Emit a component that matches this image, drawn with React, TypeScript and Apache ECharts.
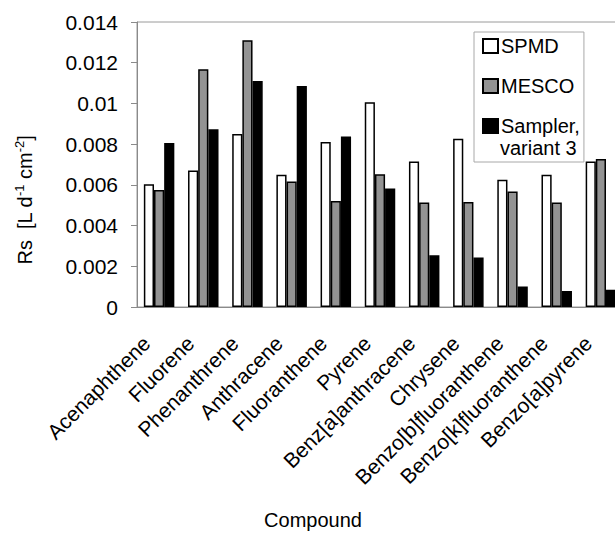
import React, { useEffect, useRef } from "react";
import * as echarts from "echarts";

const categories = [
  "Acenaphthene",
  "Fluorene",
  "Phenanthrene",
  "Anthracene",
  "Fluoranthene",
  "Pyrene",
  "Benz[a]anthracene",
  "Chrysene",
  "Benzo[b]fluoranthene",
  "Benzo[k]fluoranthene",
  "Benzo[a]pyrene",
];
const spmd = [0.00603, 0.0067, 0.0085, 0.0065, 0.0081, 0.01006, 0.00715, 0.00826, 0.00625, 0.0065, 0.00715];
const mesco = [0.00575, 0.01168, 0.0131, 0.00616, 0.00521, 0.00652, 0.00513, 0.00516, 0.00567, 0.00513, 0.00727];
const sampler = [0.00806, 0.00873, 0.0111, 0.01086, 0.00838, 0.00582, 0.00254, 0.00243, 0.00101, 0.00078, 0.00085];
const seriesNames = ["SPMD", "MESCO", "Sampler, variant 3"];

const FONT = "Liberation Sans, Arial, sans-serif";

export default function App() {
  const ref = useRef<HTMLDivElement>(null);
  useEffect(() => {
    if (!ref.current) return;
    const chart = echarts.init(ref.current, undefined, { renderer: "svg" });
    const mk = (name: string, data: number[], color: string) => ({
      name,
      type: "bar",
      data,
      barGap: "0%",
      barCategoryGap: "31%",
      itemStyle: { color, borderColor: "#000", borderWidth: 1.5 },
    });
    chart.setOption({
      animation: false,
      backgroundColor: "#fff",
      textStyle: { fontFamily: FONT },
      grid: {
        left: 137,
        top: 22,
        width: 486,
        height: 285,
        show: true,
        borderColor: "#9a9a9a",
        borderWidth: 1,
        containLabel: false,
      },
      legend: {
        data: seriesNames,
        orient: "vertical",
        left: 474,
        top: 32,
        padding: [3, 4, 25, 8],
        itemGap: 18,
        itemWidth: 15,
        itemHeight: 14,
        icon: "rect",
        borderColor: "#a8a8a8",
        borderWidth: 1,
        backgroundColor: "#fff",
        formatter: (n: string) => (n === "Sampler, variant 3" ? "Sampler," : n),
        textStyle: { fontSize: 20, color: "#000", fontFamily: FONT, lineHeight: 22, padding: [0, 0, 0, -2] },
      },
      xAxis: {
        type: "category",
        data: categories,
        axisLine: { lineStyle: { color: "#8a8a8a", width: 1 } },
        axisTick: { length: 5, lineStyle: { color: "#8a8a8a" } },
        axisLabel: {
          rotate: 45,
          interval: 0,
          fontSize: 21,
          color: "#000",
          fontFamily: FONT,
          margin: 20,
          padding: [0, 18, 0, 0],
        },
      },
      yAxis: {
        type: "value",
        min: 0,
        max: 0.014,
        interval: 0.002,
        splitLine: { show: false },
        axisLine: { show: true, lineStyle: { color: "#8a8a8a", width: 1 } },
        axisTick: { show: true, length: 6, lineStyle: { color: "#8a8a8a" } },
        axisLabel: {
          fontSize: 21,
          color: "#000",
          fontFamily: FONT,
          margin: 19,
          formatter: (v: number) => String(+v.toFixed(3)),
        },
      },
      graphic: [
        {
          type: "text",
          x: 500,
          y: 148,
          style: {
            text: "variant 3",
            fontSize: 20,
            fontFamily: FONT,
            fill: "#000",
            textVerticalAlign: "middle",
          },
          z: 100,
        },
        {
          type: "text",
          x: 313,
          y: 520,
          style: {
            text: "Compound",
            fontSize: 20,
            fontFamily: FONT,
            fill: "#000",
            textAlign: "center",
            textVerticalAlign: "middle",
          },
        },
        {
          type: "text",
          x: 25,
          y: 200,
          rotation: Math.PI / 2,
          style: {
            text: "{n|Rs  [L d}{s|-1}{n| cm}{s|-2}{n|]}",
            fontFamily: FONT,
            fill: "#000",
            textAlign: "center",
            textVerticalAlign: "middle",
            rich: {
              n: { fontSize: 20, fontFamily: FONT, lineHeight: 24, verticalAlign: "middle" },
              s: { fontSize: 13, fontFamily: FONT, lineHeight: 24, verticalAlign: "top" },
            },
          },
        },
      ],
      series: [mk(seriesNames[0], spmd, "#ffffff"), mk(seriesNames[1], mesco, "#939393"), mk(seriesNames[2], sampler, "#000000")],
    });
    return () => chart.dispose();
  }, []);
  return (
    <div style={{ position: "absolute", left: 0, top: 0, width: 615, height: 533, overflow: "hidden", background: "#fff" }}>
      <div ref={ref} style={{ width: 640, height: 533 }} />
    </div>
  );
}
